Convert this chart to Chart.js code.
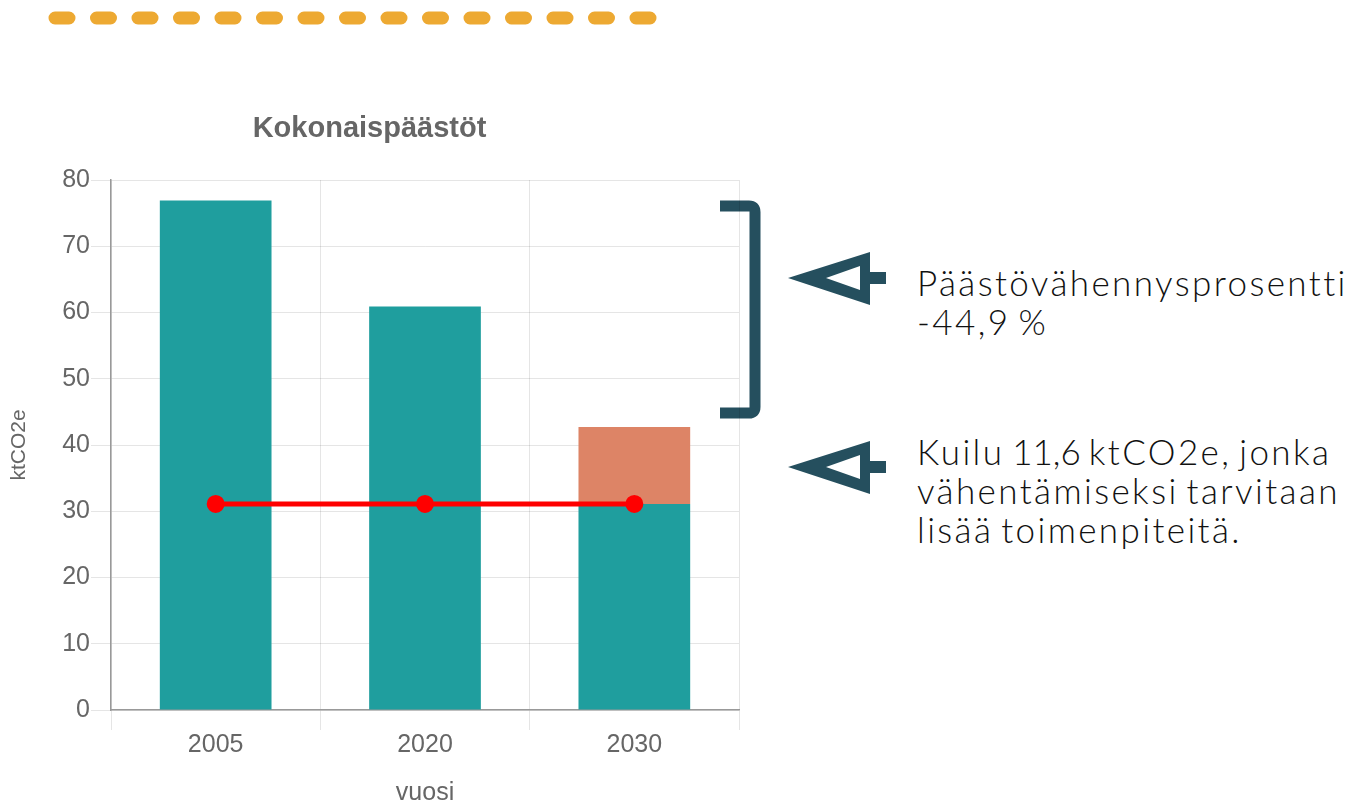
<!DOCTYPE html>
<html lang="fi">
<head>
  <meta charset="UTF-8">
  <title>Kokonaispäästöt</title>
  <script src="https://cdn.jsdelivr.net/npm/chart.js"></script>
  <style>
    body {
      margin: 0;
      width: 1360px;
      height: 803px;
      background: #fff;
      position: relative;
      overflow: hidden;
    }
    .chart-box {
      position: absolute;
      left: 0;
      top: 100px;
      width: 760px;
      height: 706px;
    }
    svg.deco {
      position: absolute;
      left: 0;
      top: 0;
    }
    .note {
      position: absolute;
      left: 917px;
      font-family: 'Lato', 'Open Sans', sans-serif;
      font-weight: 300;
      font-size: 35px;
      line-height: 39px;
      letter-spacing: 2.4px;
      word-spacing: -4px;
      color: #111;
      white-space: nowrap;
    }
    .note .num { letter-spacing: 0; }
  </style>
</head>
<body>
  <svg class="deco" width="1360" height="803">
    <!-- dashed line on top -->
    <line x1="55" y1="18" x2="650" y2="18" stroke="#eda932" stroke-width="13"
          stroke-linecap="round" stroke-dasharray="14 27.5"/>
    <!-- bracket -->
    <path d="M720 206 H749 Q755 206 755 212 V407 Q755 413 749 413 H720" fill="none" stroke="#254f5e" stroke-width="11"/>
    <!-- arrows -->
    <g fill="#254f5e" fill-rule="evenodd">
      <path d="M788 278 L870 252 L870 305 Z M826 278 L860 266 L860 290 Z"/>
      <rect x="868" y="272" width="18" height="12"/>
      <path d="M788 467 L870 441 L870 494 Z M826 467 L860 455 L860 479 Z"/>
      <rect x="868" y="461" width="18" height="12"/>
    </g>
  </svg>

  <div class="chart-box"><canvas id="chart"></canvas></div>

  <div class="note" style="top:263px">Päästövähennysprosentti<br>-44,9 %</div>
  <div class="note" style="top:432px">Kuilu <span class="num">11,6</span> ktCO2e, jonka<br>vähentämiseksi tarvitaan<br>lisää toimenpiteitä.</div>

  <script>
    const years = ['2005', '2020', '2030'];
    const emissions = [76.9, 60.9, 31.1];
    const gap = [null, null, 11.6];
    const target = [31.1, 31.1, 31.1];
    const yTicks = [0, 10, 20, 30, 40, 50, 60, 70, 80];

    const grey = '#666';
    const family = "'Liberation Sans', Arial, sans-serif";
    const tickFont = { family: family, size: 25 };

    new Chart(document.getElementById('chart'), {
      type: 'bar',
      data: {
        labels: years,
        datasets: [
          {
            type: 'line',
            label: 'tavoite',
            data: target,
            borderColor: '#ff0000',
            backgroundColor: '#ff0000',
            borderWidth: 5,
            pointRadius: 6.5,
            pointHoverRadius: 6.5,
            stack: 'target',
            order: 0
          },
          {
            label: 'päästöt',
            data: emissions,
            backgroundColor: '#1f9e9e',
            barPercentage: 0.667,
            categoryPercentage: 0.8,
            order: 1
          },
          {
            label: 'kuilu',
            data: gap,
            backgroundColor: '#dd8466',
            barPercentage: 0.667,
            categoryPercentage: 0.8,
            order: 1
          }
        ]
      },
      options: {
        responsive: true,
        maintainAspectRatio: false,
        animation: false,
        layout: { padding: { left: 0, right: 21, top: 0, bottom: 0 } },
        plugins: {
          legend: { display: false },
          tooltip: { enabled: false },
          title: {
            display: true,
            text: 'Kokonaispäästöt',
            color: grey,
            font: { family: family, size: 29, weight: 'bold' },
            padding: { top: 11.6, bottom: 33.6 }
          }
        },
        scales: {
          x: {
            stacked: true,
            grid: { color: 'rgba(0,0,0,0.1)', tickLength: 20, offset: true },
            border: { color: '#999', width: 1.5 },
            ticks: { color: grey, font: tickFont, padding: 0 },
            title: {
              display: true, text: 'vuosi', color: grey,
              font: { family: family, size: 25, lineHeight: 1 },
              padding: { top: 21, bottom: 0 }
            }
          },
          y: {
            stacked: true,
            min: 0,
            max: 80,
            afterBuildTicks: axis => { axis.ticks = yTicks.map(v => ({ value: v })); },
            grid: { color: 'rgba(0,0,0,0.1)', tickLength: 20 },
            border: { color: '#999', width: 1.5 },
            ticks: { color: grey, font: tickFont, padding: 1 },
            title: {
              display: true, text: 'ktCO2e', color: grey,
              font: { family: family, size: 21, lineHeight: 1.2 },
              padding: { top: 7, bottom: 29 }
            }
          }
        }
      }
    });
  </script>
</body>
</html>
